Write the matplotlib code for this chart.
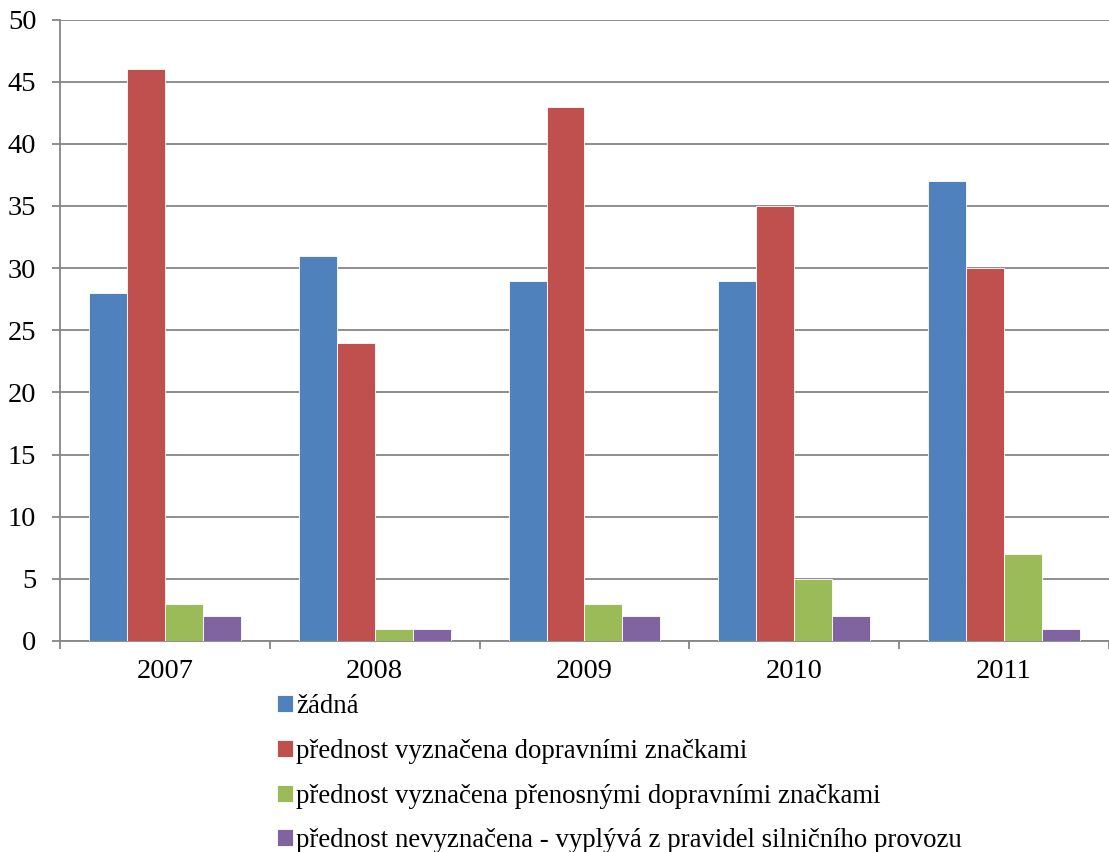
import numpy as np
import matplotlib.pyplot as plt
from matplotlib.ticker import FixedLocator

plt.rcParams['font.family'] = ['Liberation Serif', 'DejaVu Serif']

# counts per year and per type of right-of-way marking
years = ['2007', '2008', '2009', '2010', '2011']
zadna = [28, 31, 29, 29, 37]
dopravni = [46, 24, 43, 35, 30]
prenosne = [3, 1, 3, 5, 7]
nevyznacena = [2, 1, 2, 2, 1]

labels = ['žádná',
          'přednost vyznačena dopravními značkami',
          'přednost vyznačena přenosnými dopravními značkami',
          'přednost nevyznačena - vyplývá z pravidel silničního provozu']
colors = ['#4F81BD', '#C0504D', '#9BBB59', '#8064A2']
grid_col = '#868686'

fig = plt.figure(figsize=(11.09, 8.52), dpi=100)
ax = fig.add_axes([0.0541, 0.2477, 0.9459, 0.7294])

x = np.arange(len(years))
w = 0.181
series = [zadna, dopravni, prenosne, nevyznacena]
for i, (vals, c, lab) in enumerate(zip(series, colors, labels)):
    ax.bar(x + (i - 1.5) * w, vals, w, color=c, edgecolor='white',
           linewidth=0.6, label=lab, zorder=3)

ax.set_xlim(-0.5, len(years) - 0.5)
ax.set_ylim(0, 50)
ax.set_yticks(np.arange(0, 51, 5))
ax.yaxis.grid(True, color=grid_col, linewidth=1.3, zorder=0)
ax.tick_params(axis='y', length=6, width=1.3, color=grid_col, pad=11,
               labelsize=20.5)

ax.set_xticks(x)
ax.set_xticklabels(years)
ax.tick_params(axis='x', which='major', length=0, pad=13, labelsize=20.5)
ax.xaxis.set_minor_locator(FixedLocator(np.arange(-0.5, len(years), 1.0)))
ax.tick_params(axis='x', which='minor', length=6, width=1.3, color=grid_col)

for s in ['top', 'right']:
    ax.spines[s].set_visible(False)
for s in ['left', 'bottom']:
    ax.spines[s].set_color(grid_col)
    ax.spines[s].set_linewidth(1.3)

fig.legend(loc='upper left', bbox_to_anchor=(0.240, 0.1978), frameon=False,
           fontsize=19.3, handlelength=0.6, handleheight=0.6,
           handletextpad=0.12, labelspacing=0.735, borderaxespad=0)

fig.savefig('out.png', dpi=100)
